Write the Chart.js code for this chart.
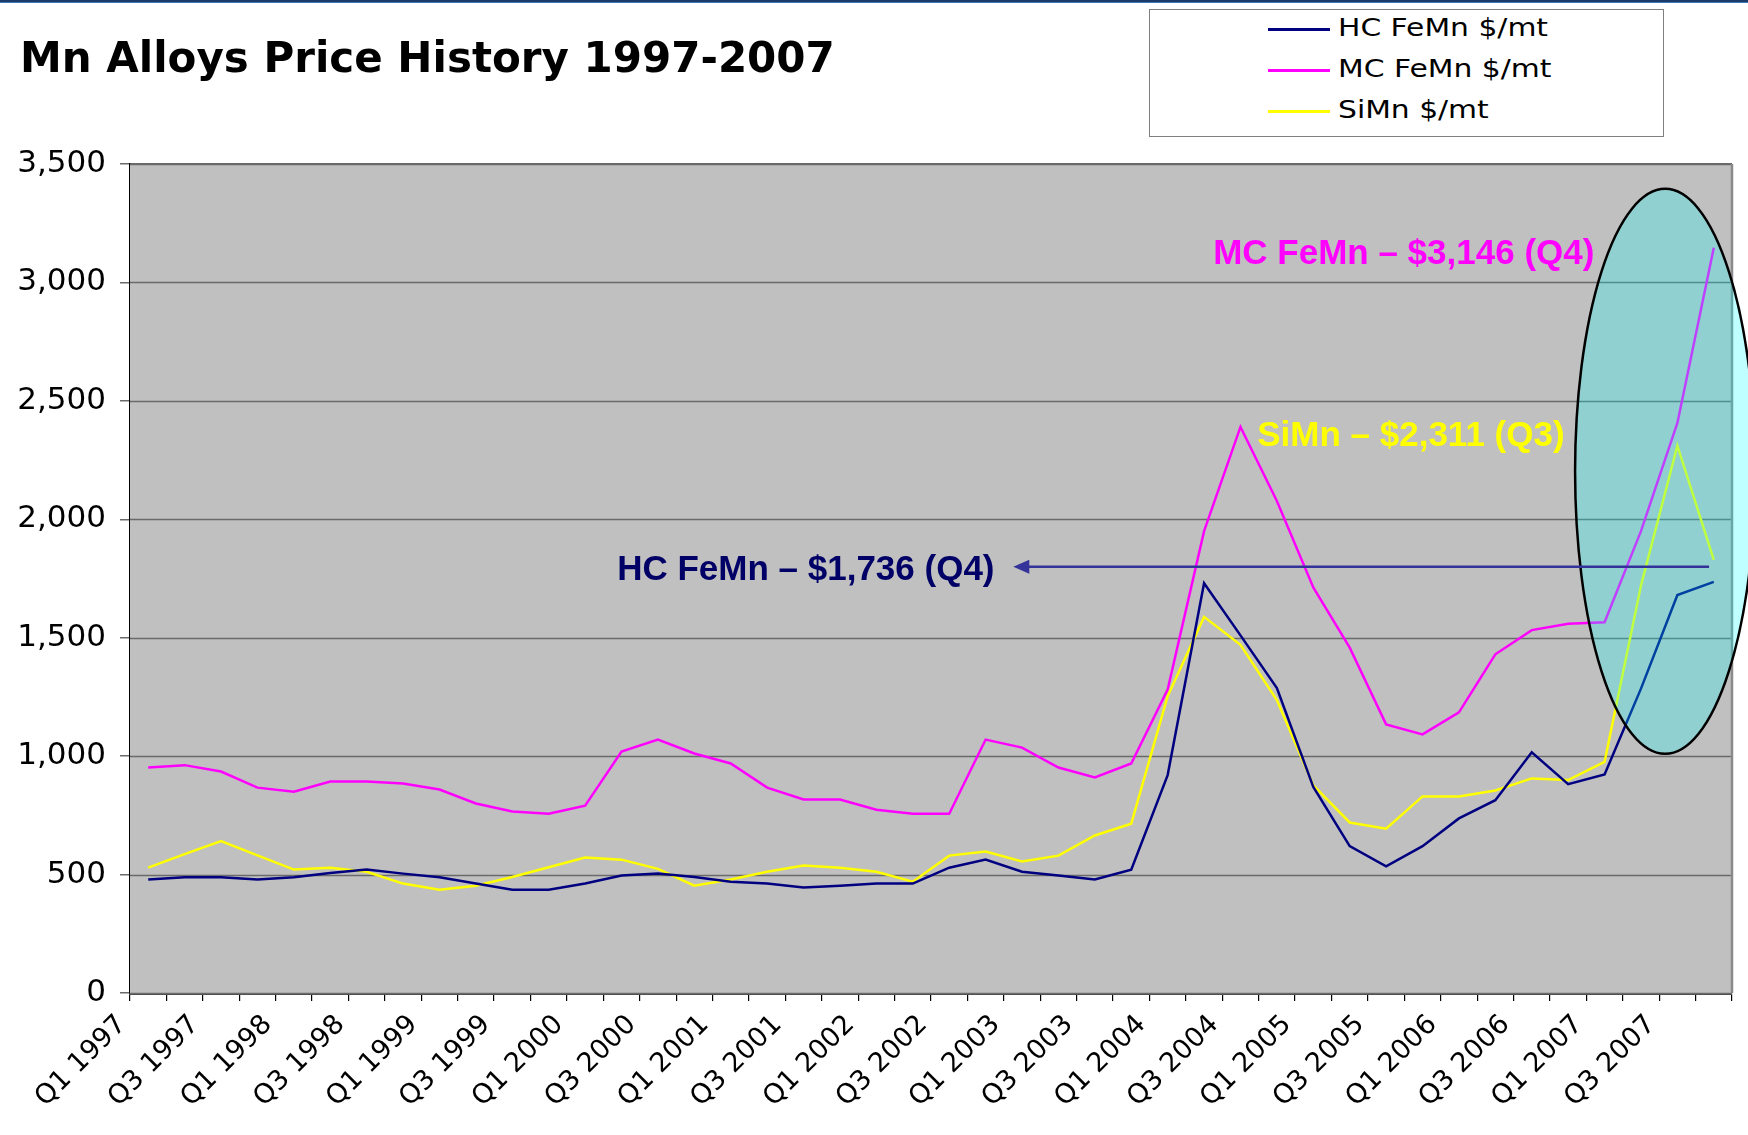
<!DOCTYPE html>
<html>
<head>
<meta charset="utf-8">
<script src="https://cdn.jsdelivr.net/npm/chart.js@4.4.1/dist/chart.umd.min.js"></script>
<style>
    html, body { margin: 0; padding: 0; background: #fff; }
    #wrap { position: relative; width: 1748px; height: 1135px; overflow: hidden; }
    #topbar { position: absolute; left: 0; top: 0; width: 1748px; height: 2px; background: #1b3a66; border-bottom: 1px solid #3c78c0; }
    #legend { position: absolute; left: 1149px; top: 9px; width: 513px; height: 126px; border: 1.5px solid #7f7f7f; background: #fff; }
    #legend .item { position: absolute; left: 118px; height: 30px; }
    #legend .swatch { position: absolute; left: 0; top: 14px; width: 62px; height: 2.5px; }
    #legend .text { position: absolute; left: 70px; top: 0; white-space: nowrap; font: 24px "DejaVu Sans", sans-serif; color: #000; transform: scaleX(1.24); transform-origin: left center; }
</style>
</head>
<body>
<div id="wrap">
    <canvas id="chart" width="1748" height="1135"></canvas>
    <div id="topbar"></div>
    <div id="legend"></div>
</div>
<script>
// 季度标签
const quarters = [
    'Q1 1997', 'Q2 1997', 'Q3 1997', 'Q4 1997',
    'Q1 1998', 'Q2 1998', 'Q3 1998', 'Q4 1998',
    'Q1 1999', 'Q2 1999', 'Q3 1999', 'Q4 1999',
    'Q1 2000', 'Q2 2000', 'Q3 2000', 'Q4 2000',
    'Q1 2001', 'Q2 2001', 'Q3 2001', 'Q4 2001',
    'Q1 2002', 'Q2 2002', 'Q3 2002', 'Q4 2002',
    'Q1 2003', 'Q2 2003', 'Q3 2003', 'Q4 2003',
    'Q1 2004', 'Q2 2004', 'Q3 2004', 'Q4 2004',
    'Q1 2005', 'Q2 2005', 'Q3 2005', 'Q4 2005',
    'Q1 2006', 'Q2 2006', 'Q3 2006', 'Q4 2006',
    'Q1 2007', 'Q2 2007', 'Q3 2007', 'Q4 2007'
];

// 价格数据 $/mt
const hcFeMn = [
    479, 489, 489, 479, 489, 507, 521, 504, 489, 462, 436, 436,
    462, 496, 504, 490, 470, 462, 445, 453, 462, 462, 529, 563,
    512, 496, 479, 521, 920, 1730, 1510, 1287, 870, 620, 535, 620,
    737, 814, 1016, 882, 923, 1285, 1680, 1736
];
const mcFeMn = [
    952, 962, 935, 867, 850, 893, 893, 884, 859, 800, 766, 757,
    791, 1019, 1070, 1011, 969, 867, 817, 817, 774, 757, 757, 1070,
    1036, 952, 910, 969, 1281, 1950, 2390, 2077, 1712, 1458, 1134, 1092,
    1185, 1430, 1532, 1559, 1565, 1950, 2407, 3146
];
const siMn = [
    529, 586, 641, 581, 521, 529, 512, 462, 436, 453, 490, 531,
    572, 563, 524, 453, 479, 512, 538, 529, 512, 470, 580, 597,
    555, 580, 665, 715, 1253, 1588, 1470, 1237, 877, 720, 694, 830,
    830, 855, 906, 899, 976, 1720, 2311, 1829
];

const seriesNames = ['HC FeMn $/mt', 'MC FeMn $/mt', 'SiMn $/mt'];
const seriesColors = ['#000080', '#ff00ff', '#ffff00'];
const yTicks = [0, 500, 1000, 1500, 2000, 2500, 3000, 3500];

// 标注（数据坐标：x 为类别序号，y 为价格）
const callouts = [
    { text: 'MC FeMn – $3,146 (Q4)', x: 29.25, y: 3120, color: '#ff00ff' },
    { text: 'SiMn – $2,311 (Q3)', x: 30.46, y: 2352, color: '#ffff00' },
    { text: 'HC FeMn – $1,736 (Q4)', x: 12.88, y: 1786, color: '#000066' }
];
const hcArrow = { xFrom: 42.87, xTo: 23.76, y: 1800 };
const highlight = { xMin: 39.19, xMax: 44.14, yMin: 1010, yMax: 3395 };

// 绘图区背景、边框、标题和标注
const decorPlugin = {
    id: 'decor',
    beforeDatasetsDraw(chart) {
        const a = chart.chartArea;
        const ctx = chart.ctx;
        ctx.save();
        ctx.fillStyle = '#c0c0c0';
        ctx.fillRect(a.left, a.top, a.right - a.left, a.bottom - a.top);
        // 重画网格线（背景会盖住）
        const y = chart.scales.y;
        ctx.strokeStyle = '#6a6a6a';
        ctx.lineWidth = 1.5;
        yTicks.forEach(function(v) {
            const py = Math.round(y.getPixelForValue(v)) + 0.5;
            ctx.beginPath();
            ctx.moveTo(a.left, py);
            ctx.lineTo(a.right, py);
            ctx.stroke();
        });
        ctx.restore();
    },
    afterDatasetsDraw(chart) {
        const ctx = chart.ctx;
        const a = chart.chartArea;
        const x = chart.scales.x;
        const y = chart.scales.y;
        ctx.save();

        // 右侧边框
        ctx.strokeStyle = '#8a8a8a';
        ctx.lineWidth = 2.5;
        ctx.beginPath();
        ctx.moveTo(a.right, a.top);
        ctx.lineTo(a.right, a.bottom);
        ctx.stroke();

        // 2007 高亮椭圆
        const x0 = x.getPixelForValue(highlight.xMin);
        const x1 = x.getPixelForValue(highlight.xMax);
        const y0 = y.getPixelForValue(highlight.yMax);
        const y1 = y.getPixelForValue(highlight.yMin);
        ctx.beginPath();
        ctx.ellipse((x0 + x1) / 2, (y0 + y1) / 2, (x1 - x0) / 2, (y1 - y0) / 2, 0, 0, Math.PI * 2);
        ctx.fillStyle = 'rgba(0, 255, 255, 0.25)';
        ctx.fill();
        ctx.strokeStyle = '#000';
        ctx.lineWidth = 2.5;
        ctx.stroke();

        // HC 箭头
        const ay = y.getPixelForValue(hcArrow.y);
        const ax0 = x.getPixelForValue(hcArrow.xFrom);
        const ax1 = x.getPixelForValue(hcArrow.xTo);
        ctx.strokeStyle = '#333399';
        ctx.fillStyle = '#333399';
        ctx.lineWidth = 2.5;
        ctx.beginPath();
        ctx.moveTo(ax0, ay);
        ctx.lineTo(ax1 + 14, ay);
        ctx.stroke();
        ctx.beginPath();
        ctx.moveTo(ax1, ay);
        ctx.lineTo(ax1 + 16, ay - 7);
        ctx.lineTo(ax1 + 16, ay + 7);
        ctx.closePath();
        ctx.fill();

        // 文字标注
        ctx.font = 'bold 35px "Liberation Sans", Arial, sans-serif';
        ctx.textAlign = 'left';
        ctx.textBaseline = 'middle';
        callouts.forEach(function(c) {
            ctx.fillStyle = c.color;
            ctx.fillText(c.text, x.getPixelForValue(c.x), y.getPixelForValue(c.y));
        });

        // 标题
        ctx.fillStyle = '#000';
        ctx.font = 'bold 42px "DejaVu Sans", sans-serif';
        ctx.textBaseline = 'alphabetic';
        ctx.fillText('Mn Alloys Price History 1997-2007', 20, 72);

        ctx.restore();
    }
};

document.addEventListener('DOMContentLoaded', function() {
    const ctx = document.getElementById('chart').getContext('2d');
    const chart = new Chart(ctx, {
        type: 'line',
        data: {
            labels: quarters,
            datasets: [hcFeMn, mcFeMn, siMn].map(function(values, i) {
                return {
                    label: seriesNames[i],
                    data: values,
                    borderColor: seriesColors[i],
                    backgroundColor: seriesColors[i],
                    borderWidth: 2.5,
                    pointRadius: 0,
                    tension: 0,
                    fill: false
                };
            })
        },
        options: {
            responsive: false,
            animation: false,
            layout: {
                padding: { top: 164, right: 16, left: 0, bottom: 0 }
            },
            plugins: {
                legend: { display: false },
                title: { display: false },
                tooltip: { enabled: false }
            },
            scales: {
                x: {
                    type: 'category',
                    offset: true,
                    afterFit: function(scale) { scale.height = 142; },
                    grid: {
                        offset: true,
                        drawOnChartArea: false,
                        drawTicks: true,
                        tickLength: 8,
                        color: '#000',
                        lineWidth: 1.2
                    },
                    border: { color: '#4a4a4a', width: 3 },
                    ticks: {
                        autoSkip: false,
                        minRotation: 45,
                        maxRotation: 45,
                        labelOffset: -26,
                        padding: 8,
                        color: '#000',
                        font: { family: '"DejaVu Sans", sans-serif', size: 27 },
                        callback: function(value, index) {
                            return index % 2 === 0 ? this.getLabelForValue(value) : '';
                        }
                    }
                },
                y: {
                    min: 0,
                    max: 3500,
                    afterFit: function(scale) { scale.width = 130; },
                    afterBuildTicks: function(scale) {
                        scale.ticks = yTicks.map(function(v) { return { value: v }; });
                    },
                    grid: {
                        color: '#6a6a6a',
                        lineWidth: 1.5,
                        drawTicks: true,
                        tickLength: 10
                    },
                    border: { color: '#000', width: 1.5 },
                    ticks: {
                        padding: 14,
                        color: '#000',
                        font: { family: '"DejaVu Sans", sans-serif', size: 31 },
                        callback: function(value) {
                            return value.toLocaleString('en-US');
                        }
                    }
                }
            }
        },
        plugins: [decorPlugin]
    });

    // 图例（HTML）
    const legend = document.getElementById('legend');
    chart.data.datasets.forEach(function(ds, i) {
        const item = document.createElement('div');
        item.className = 'item';
        item.style.top = (4 + i * 41) + 'px';
        const sw = document.createElement('div');
        sw.className = 'swatch';
        sw.style.background = ds.borderColor;
        const tx = document.createElement('span');
        tx.className = 'text';
        tx.textContent = ds.label;
        item.appendChild(sw);
        item.appendChild(tx);
        legend.appendChild(item);
    });
});
</script>
</body>
</html>
